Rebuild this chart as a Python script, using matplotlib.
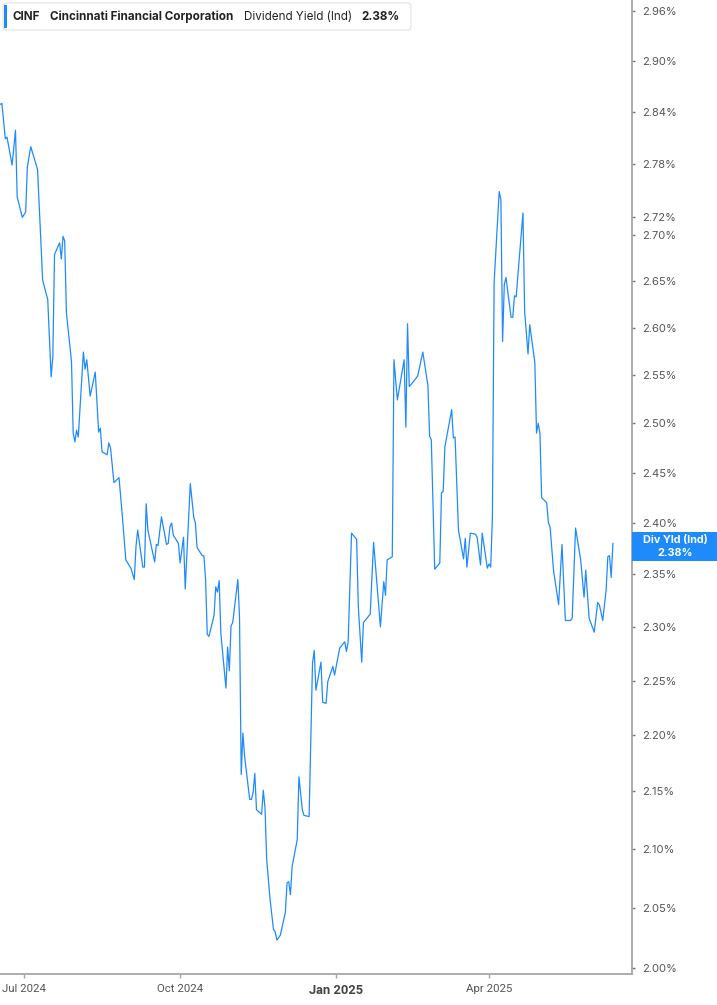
import matplotlib
matplotlib.use("Agg")
import matplotlib.pyplot as plt
import matplotlib.ticker as mticker
from matplotlib.patches import FancyBboxPatch, Rectangle
import pandas as pd

# dividend yield (%)
dates = [
    "2024-06-17", "2024-06-18", "2024-06-20", "2024-06-21", "2024-06-24", "2024-06-26", "2024-06-27",
    "2024-06-30", "2024-07-02", "2024-07-03", "2024-07-05", "2024-07-09", "2024-07-12", "2024-07-15",
    "2024-07-17", "2024-07-18", "2024-07-19", "2024-07-22", "2024-07-23", "2024-07-24", "2024-07-25",
    "2024-07-26", "2024-07-29", "2024-07-30", "2024-07-31", "2024-08-01", "2024-08-02", "2024-08-05",
    "2024-08-06", "2024-08-07", "2024-08-09", "2024-08-12", "2024-08-14", "2024-08-15", "2024-08-16",
    "2024-08-19", "2024-08-20", "2024-08-21", "2024-08-23", "2024-08-26", "2024-08-28", "2024-08-30",
    "2024-09-02", "2024-09-04", "2024-09-05", "2024-09-06", "2024-09-09", "2024-09-10", "2024-09-11",
    "2024-09-12", "2024-09-16", "2024-09-17", "2024-09-18", "2024-09-20", "2024-09-23", "2024-09-24",
    "2024-09-25", "2024-09-26", "2024-09-27", "2024-09-30", "2024-10-01", "2024-10-03", "2024-10-04",
    "2024-10-07", "2024-10-09", "2024-10-10", "2024-10-11", "2024-10-14", "2024-10-15", "2024-10-16",
    "2024-10-17", "2024-10-18", "2024-10-21", "2024-10-22", "2024-10-23", "2024-10-24", "2024-10-25",
    "2024-10-28", "2024-10-29", "2024-10-30", "2024-10-31", "2024-11-01", "2024-11-04", "2024-11-05",
    "2024-11-06", "2024-11-07", "2024-11-08", "2024-11-11", "2024-11-12", "2024-11-13", "2024-11-14",
    "2024-11-15", "2024-11-18", "2024-11-19", "2024-11-20", "2024-11-21", "2024-11-23", "2024-11-25",
    "2024-11-26", "2024-11-27", "2024-11-29", "2024-12-02", "2024-12-03", "2024-12-04", "2024-12-05",
    "2024-12-06", "2024-12-09", "2024-12-10", "2024-12-12", "2024-12-13", "2024-12-16", "2024-12-18",
    "2024-12-19", "2024-12-20", "2024-12-23", "2024-12-24", "2024-12-26", "2024-12-27", "2024-12-30",
    "2024-12-31", "2025-01-03", "2025-01-06", "2025-01-07", "2025-01-08", "2025-01-10", "2025-01-13",
    "2025-01-14", "2025-01-16", "2025-01-17", "2025-01-21", "2025-01-23", "2025-01-27", "2025-01-29",
    "2025-01-30", "2025-01-31", "2025-02-03", "2025-02-04", "2025-02-06", "2025-02-08", "2025-02-10",
    "2025-02-11", "2025-02-12", "2025-02-13", "2025-02-15", "2025-02-18", "2025-02-21", "2025-02-24",
    "2025-02-25", "2025-02-26", "2025-02-28", "2025-03-03", "2025-03-04", "2025-03-05", "2025-03-06",
    "2025-03-10", "2025-03-11", "2025-03-12", "2025-03-14", "2025-03-17", "2025-03-18", "2025-03-19",
    "2025-03-21", "2025-03-24", "2025-03-25", "2025-03-27", "2025-03-28", "2025-03-31", "2025-04-01",
    "2025-04-02", "2025-04-03", "2025-04-04", "2025-04-07", "2025-04-08", "2025-04-09", "2025-04-10",
    "2025-04-11", "2025-04-14", "2025-04-15", "2025-04-16", "2025-04-17", "2025-04-21", "2025-04-22",
    "2025-04-24", "2025-04-25", "2025-04-28", "2025-04-29", "2025-04-30", "2025-05-01", "2025-05-02",
    "2025-05-05", "2025-05-06", "2025-05-07", "2025-05-09", "2025-05-12", "2025-05-14", "2025-05-16",
    "2025-05-19", "2025-05-20", "2025-05-22", "2025-05-25", "2025-05-27", "2025-05-28", "2025-05-30",
    "2025-06-02", "2025-06-04", "2025-06-05", "2025-06-07", "2025-06-09", "2025-06-10", "2025-06-11",
    "2025-06-12", "2025-06-13",
]
div_yield = [
    2.849, 2.850, 2.809, 2.811, 2.779, 2.819, 2.743,
    2.720, 2.726, 2.777, 2.800, 2.774, 2.651, 2.630,
    2.548, 2.569, 2.679, 2.692, 2.674, 2.699, 2.694,
    2.616, 2.564, 2.490, 2.481, 2.493, 2.486, 2.574,
    2.556, 2.566, 2.528, 2.553, 2.491, 2.495, 2.471,
    2.468, 2.480, 2.475, 2.440, 2.445, 2.406, 2.364,
    2.356, 2.345, 2.377, 2.393, 2.357, 2.357, 2.419,
    2.393, 2.362, 2.379, 2.378, 2.406, 2.379, 2.380,
    2.396, 2.400, 2.388, 2.380, 2.361, 2.386, 2.336,
    2.439, 2.406, 2.400, 2.376, 2.368, 2.368, 2.345,
    2.293, 2.291, 2.311, 2.338, 2.333, 2.344, 2.294,
    2.243, 2.281, 2.259, 2.301, 2.304, 2.345, 2.309,
    2.165, 2.202, 2.181, 2.143, 2.143, 2.149, 2.166,
    2.134, 2.130, 2.151, 2.136, 2.091, 2.057, 2.032,
    2.030, 2.023, 2.027, 2.046, 2.071, 2.072, 2.061,
    2.085, 2.108, 2.163, 2.134, 2.129, 2.128, 2.266,
    2.278, 2.241, 2.267, 2.230, 2.229, 2.249, 2.263,
    2.255, 2.280, 2.286, 2.277, 2.286, 2.390, 2.384,
    2.319, 2.267, 2.304, 2.312, 2.381, 2.300, 2.343,
    2.330, 2.364, 2.367, 2.566, 2.524, 2.545, 2.566,
    2.496, 2.604, 2.538, 2.542, 2.549, 2.574, 2.539,
    2.487, 2.483, 2.355, 2.361, 2.430, 2.431, 2.476,
    2.514, 2.485, 2.486, 2.393, 2.365, 2.385, 2.357,
    2.390, 2.389, 2.386, 2.359, 2.390, 2.356, 2.360,
    2.357, 2.406, 2.648, 2.749, 2.740, 2.585, 2.646,
    2.654, 2.611, 2.611, 2.634, 2.633, 2.725, 2.617,
    2.572, 2.603, 2.563, 2.490, 2.500, 2.490, 2.425,
    2.420, 2.400, 2.396, 2.354, 2.321, 2.379, 2.306,
    2.306, 2.308, 2.395, 2.364, 2.328, 2.354, 2.308,
    2.295, 2.323, 2.321, 2.306, 2.335, 2.367, 2.368,
    2.347, 2.380,
]

y_ticks = [2.00, 2.05, 2.10, 2.15, 2.20, 2.25, 2.30, 2.35, 2.40, 2.45, 2.50,
           2.55, 2.60, 2.65, 2.70, 2.72, 2.78, 2.84, 2.90, 2.96]
x_ticks = ["2024-07-01", "2024-10-01", "2025-01-01", "2025-04-01"]
x_labels = ["Jul 2024", "Oct 2024", "Jan 2025", "Apr 2025"]

ticker = "CINF"
company = "Cincinnati Financial Corporation"
metric = "Dividend Yield (Ind)"
last_val = "2.38%"

BLUE = "#1f8bfa"
GRAY = "#a6a6a6"
TXT = "#555555"

W, H = 717, 1005
fig = plt.figure(figsize=(W / 100, H / 100), dpi=100)


def fx(px):
    return px / W


def fy(py):
    return 1 - py / H


ax = fig.add_axes([0, fy(974), fx(632), 974 / H])
ax.plot(pd.to_datetime(dates), div_yield, color=BLUE, lw=0.9)

ax.set_yscale("log")
ax.set_ylim(1.9951, 2.9734)
ax.set_xlim(pd.Timestamp("2024-06-16 21:00"), pd.Timestamp("2025-06-24 06:00"))

ax.yaxis.tick_right()
ax.yaxis.set_minor_locator(mticker.NullLocator())
ax.set_yticks(y_ticks)
ax.yaxis.set_major_formatter(mticker.FuncFormatter(lambda v, p: "%.2f%%" % v))
ax.tick_params(axis="y", length=2.5, width=1, color="#777777", pad=5,
               labelsize=8, labelcolor=TXT)
for t in ax.get_yticklabels():
    t.set_fontfamily("Inter")

ax.set_xticks(pd.to_datetime(x_ticks))
ax.set_xticklabels(x_labels)
ax.tick_params(axis="x", length=3, width=1, color=GRAY, pad=4,
               labelsize=8.2, labelcolor=TXT)
for i, t in enumerate(ax.get_xticklabels()):
    t.set_fontfamily("Roboto")
    if i == 2:
        t.set_fontweight("bold")
        t.set_fontsize(9.3)
        t.set_color("#444444")

for s in ["top", "left"]:
    ax.spines[s].set_visible(False)
for s in ["bottom", "right"]:
    ax.spines[s].set_color(GRAY)
    ax.spines[s].set_linewidth(1.3)

# header box
fig.add_artist(FancyBboxPatch((fx(3), fy(30)), fx(408), 27 / H,
                              boxstyle="round,pad=0,rounding_size=0.004",
                              transform=fig.transFigure, facecolor="white",
                              edgecolor="#e3e3e3", lw=0.8))
fig.add_artist(Rectangle((fx(4), fy(28)), fx(3), 23 / H, transform=fig.transFigure,
                         facecolor=BLUE, edgecolor="none"))
hy = fy(17)
fig.text(fx(13), hy, ticker, fontsize=8.4, fontweight="bold", color="#222222",
         family="Inter", va="center")
fig.text(fx(50), hy, company, fontsize=8.4, fontweight="bold", color="#222222",
         family="Inter", va="center")
fig.text(fx(244), hy, metric, fontsize=8.4, color="#222222", family="Inter", va="center")
fig.text(fx(361), hy, last_val, fontsize=8.4, fontweight="bold", color="#222222",
         family="Inter", va="center")

# last value label on the right axis
fig.add_artist(Rectangle((fx(632), fy(561)), fx(85), 29 / H, transform=fig.transFigure,
                         facecolor=BLUE, edgecolor="none"))
fig.text(fx(675), fy(540), "Div Yld (Ind)", fontsize=7.8, fontweight="bold",
         color="white", family="Inter", ha="center", va="center")
fig.text(fx(675), fy(553), last_val, fontsize=7.8, fontweight="bold",
         color="white", family="Inter", ha="center", va="center")

fig.savefig("out.png", dpi=100, facecolor="white")
